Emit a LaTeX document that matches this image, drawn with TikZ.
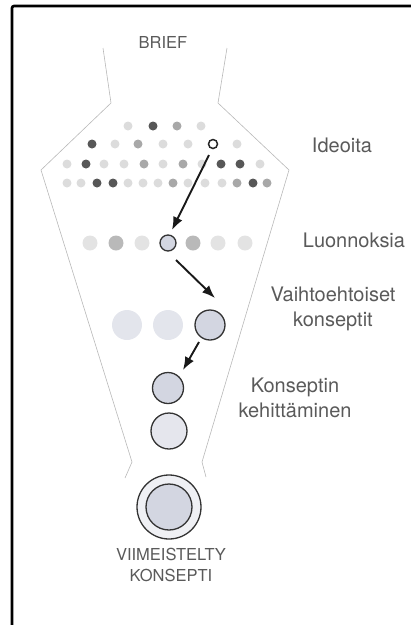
\documentclass[tikz,border=0pt]{standalone}
\usepackage{fontspec}
\setmainfont{TeX Gyre Heros}
\usetikzlibrary{arrows.meta}

\definecolor{dotdark}{HTML}{575757}
\definecolor{dotmid}{HTML}{A8A8A8}
\definecolor{dotlight}{HTML}{DCDCDC}
\definecolor{ghost}{HTML}{E3E5EC}
\definecolor{pick}{HTML}{D3D6E1}
\definecolor{halo}{HTML}{EFF0F4}
\definecolor{labelgray}{HTML}{5A5A5A}

\tikzset{
    funnel/.style={draw=black!28, line width=0.6pt},
    lbl/.style={text=labelgray, font=\fontsize{20}{25}\selectfont, align=center, anchor=base},
    capslbl/.style={text=labelgray, font=\fontsize{16.5}{21}\selectfont, align=center, anchor=base},
    idea/.style={circle, inner sep=0pt, minimum size=9pt, fill=#1},
    sketch/.style={circle, inner sep=0pt, minimum size=15pt, fill=#1},
    picked/.style={circle, inner sep=0pt, draw=black!80, line width=1.3pt, fill=pick},
    flow/.style={-{Latex[length=13pt,width=10pt]}, line width=1.9pt, black!90},
}

\begin{document}
\begin{tikzpicture}[x=1pt, y=-1pt]
    \useasboundingbox (0,0) rectangle (411,625);

    % frame (left and top edges only)
    \draw[line width=2.6pt, rounded corners=2pt] (12,625) -- (12,6) -- (411,6);

    % funnel outline
    \draw[funnel] (103,48) -- (111,103) -- (41,170) -- (132,462) -- (125,478);
    \draw[funnel] (227,48) -- (218,103) -- (289,170) -- (202,462) -- (206,477);

    % Ideoita: rows of small dots
    \foreach \x/\c [count=\i] in {128/dotlight, 153/dotdark, 177/dotmid, 201/dotlight}
        \node[idea=\c] (a\i) at (\x,126) {};
    \foreach \x/\c [count=\i] in {92/dotdark, 115/dotlight, 138/dotmid, 163/dotlight, 188/dotlight, 237/dotlight}
        \node[idea=\c] (b\i) at (\x,144) {};
    \foreach \x/\c [count=\i] in {67/dotlight, 86/dotdark, 104/dotlight, 124/dotlight, 144/dotmid, 163/dotlight,
                                  183/dotmid, 202/dotlight, 221/dotdark, 240/dotdark, 260/dotlight}
        \node[idea=\c] (c\i) at (\x,164) {};
    \foreach \x/\c [count=\i] in {67/dotlight, 81/dotlight, 97/dotdark, 113/dotdark, 128/dotlight, 143/dotlight,
                                  158/dotlight, 173/dotmid, 188/dotlight, 205/dotlight, 222/dotlight, 237/dotmid,
                                  253/dotdark, 267/dotmid}
        \node[idea=\c] (d\i) at (\x,183) {};
    \node[circle, inner sep=0pt, minimum size=9pt, draw=black!85, line width=1.5pt, fill=white]
        (idea) at (213,144) {};

    % Luonnoksia
    \foreach \x/\c [count=\i] in {90/dotlight, 116/dotmid, 142/dotlight, 193/dotmid, 218/dotlight, 245/dotlight}
        \node[sketch=\c!80] (s\i) at (\x,243) {};
    \node[picked, minimum size=16pt] (sketch) at (168,243) {};

    % Vaihtoehtoiset konseptit
    \node[circle, inner sep=0pt, minimum size=30pt, fill=ghost] (alt1) at (127,325) {};
    \node[circle, inner sep=0pt, minimum size=30pt, fill=ghost] (alt2) at (168,325) {};
    \node[picked, minimum size=30pt] (alt) at (210,325) {};

    % Konseptin kehittaminen
    \node[picked, minimum size=31pt] (dev1) at (168,388) {};
    \node[picked, minimum size=36pt, fill=pick!60] (dev2) at (169,431) {};

    % Viimeistelty konsepti
    \node[picked, minimum size=64pt, fill=halo] (final) at (169,507) {};
    \node[picked, minimum size=46pt] (core) at (169,507) {};

    % Arrows
    \draw[flow] ([shift={(-4,11)}]idea.center) -- ([shift={(4,-13)}]sketch.center);
    \draw[flow] ([shift={(8,17)}]sketch.center) -- ([shift={(5,-27)}]alt.center);
    \draw[flow] ([shift={(-11,17)}]alt.center) -- ([shift={(15,-18)}]dev1.center);

    % Labels
    \node[capslbl] (brief) at (163,48) {BRIEF};
    \node[lbl] (ideoita) at (342,152) {Ideoita};
    \node[lbl] (luonnoksia) at (354,247) {Luonnoksia};
    \node[lbl] (vaiht) at (333,326) {Vaihtoehtoiset\\konseptit};
    \node[lbl] (kehit) at (295,417) {Konseptin\\kehittäminen};
    \node[capslbl] (valmis) at (171,581) {VIIMEISTELTY\\KONSEPTI};
\end{tikzpicture}
\end{document}
